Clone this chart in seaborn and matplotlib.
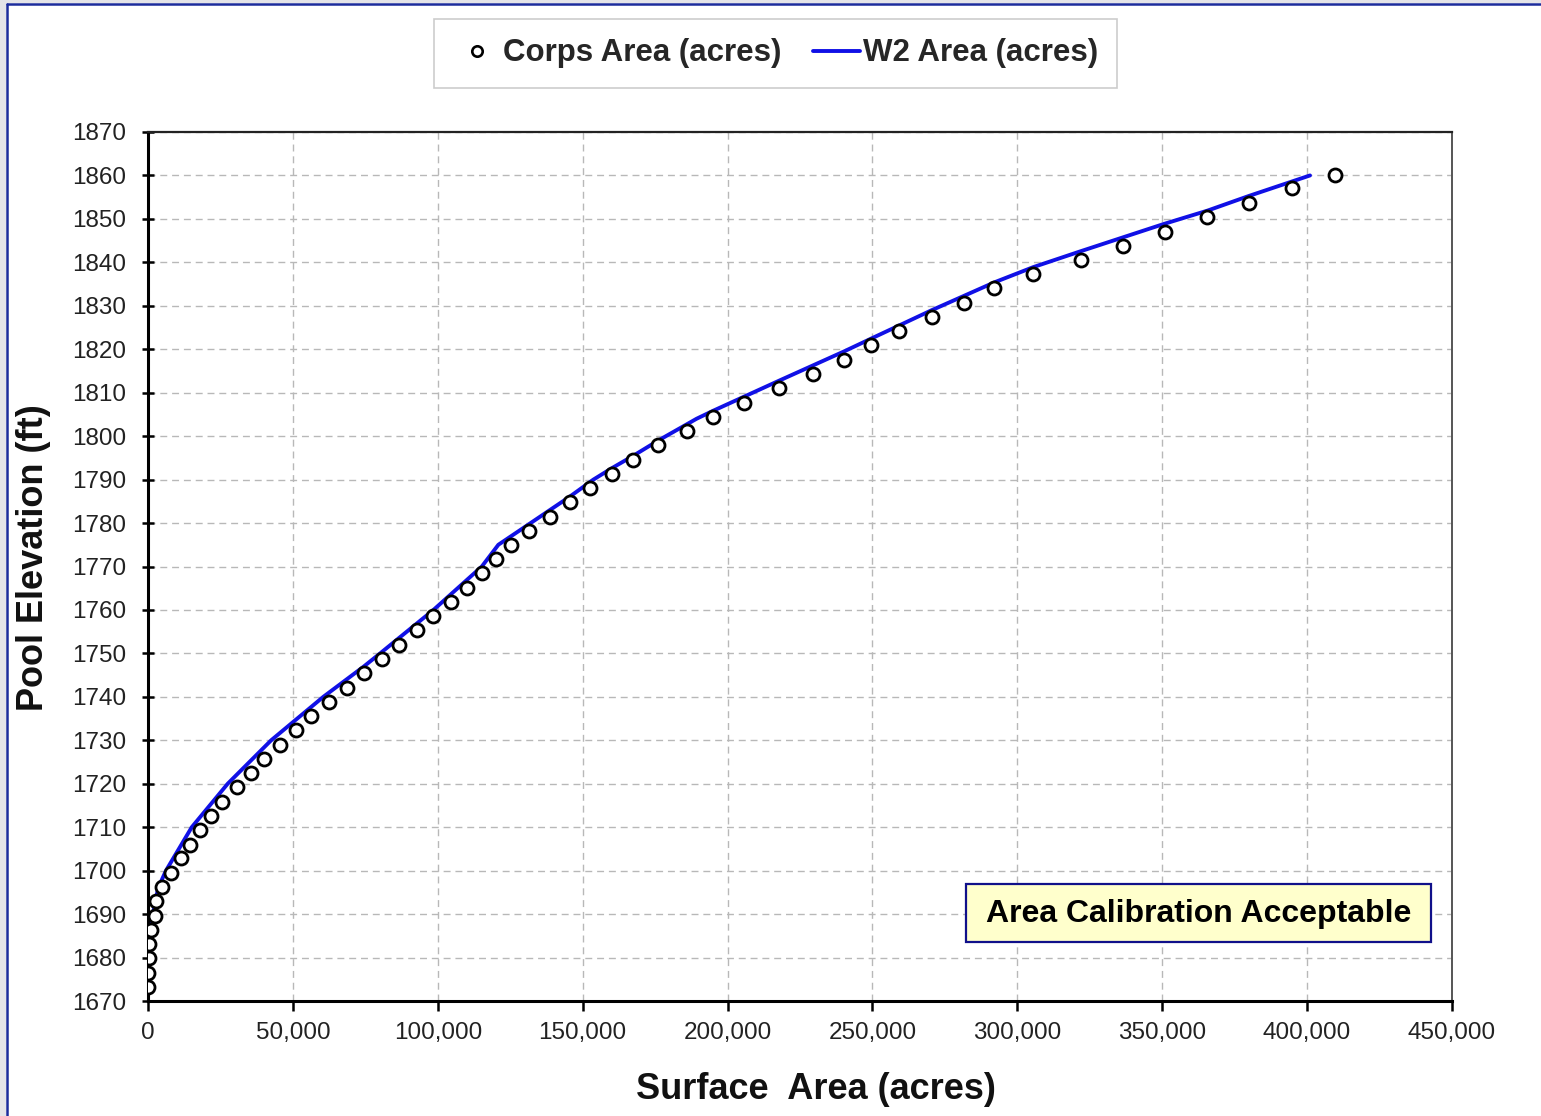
import matplotlib
matplotlib.use("Agg")
import matplotlib.pyplot as plt
from matplotlib.lines import Line2D
from matplotlib.patches import Rectangle
from matplotlib.ticker import FuncFormatter
import seaborn as sns
import pandas as pd

# ---------------- data ----------------
corps_elev = [1673.2, 1676.5, 1679.8, 1683.1, 1686.4, 1689.6, 1692.9, 1696.2, 1699.5, 1702.8,
              1706.0, 1709.3, 1712.6, 1715.9, 1719.2, 1722.4, 1725.7, 1729.0, 1732.3, 1735.6,
              1738.8, 1742.1, 1745.4, 1748.7, 1752.0, 1755.3, 1758.5, 1761.8, 1765.1, 1768.4,
              1771.7, 1774.9, 1778.2, 1781.5, 1784.8, 1788.1, 1791.3, 1794.6, 1797.9, 1801.2,
              1804.5, 1807.7, 1811.0, 1814.3, 1817.6, 1820.9, 1824.1, 1827.4, 1830.7, 1834.0,
              1837.3, 1840.6, 1843.8, 1847.1, 1850.4, 1853.7, 1857.0, 1860.2]
corps_area = [100, 100, 200, 500, 900, 2400, 2800, 4700, 7900, 11300,
              14500, 18100, 21900, 25700, 30800, 35400, 40000, 45700, 51000, 56400,
              62600, 68600, 74500, 80700, 86600, 92700, 98500, 104500, 110000, 115200,
              120000, 125200, 131600, 138600, 145600, 152400, 160000, 167500, 176100, 186000,
              194900, 205800, 217900, 229400, 240200, 249400, 259300, 270500, 281700, 292100,
              305500, 321900, 336300, 351100, 365600, 380000, 394700, 409600]

w2_area = [0, 400, 1700, 3500, 6200, 15100, 27500, 42500, 60500,
           74500, 80100, 98500, 115200, 120900, 131600, 145600, 153700, 160000, 167500,
           176100, 189300, 194900, 217900, 240200, 249400, 270500, 292100, 305500, 321600,
           350400, 365600, 380000, 401000]
w2_elev = [1673.2, 1683.0, 1690.0, 1696.0, 1700.0, 1710.0, 1720.0, 1730.0, 1740.0,
           1747.0, 1750.0, 1760.0, 1770.0, 1775.0, 1779.8, 1786.1, 1790.0, 1792.6, 1795.5,
           1799.0, 1804.0, 1805.8, 1812.8, 1819.5, 1822.4, 1829.0, 1835.4, 1838.9, 1842.5,
           1848.8, 1851.9, 1855.3, 1860.0]

y_ticks = list(range(1670, 1871, 10))
x_ticks = list(range(0, 450001, 50000))

legend_labels = ["Corps Area (acres)", "W2 Area (acres)"]
x_label = "Surface  Area (acres)"
y_label = "Pool Elevation (ft)"
note_text = "Area Calibration Acceptable"

corps = pd.DataFrame({"area": corps_area, "elev": corps_elev})
w2 = pd.DataFrame({"area": w2_area, "elev": w2_elev})

# ---------------- style ----------------
sns.set_theme(style="white")
plt.rcParams["font.family"] = ["Liberation Sans", "DejaVu Sans"]

BLUE = "#1010e6"
fig = plt.figure(figsize=(15.41, 11.16), dpi=100)
fig.patch.set_facecolor("white")
ax = fig.add_axes([148 / 1541, 1 - 1001 / 1116, (1452 - 148) / 1541, (1001 - 132) / 1116])

# figure frame (blue border at top/left, grey margin outside)
fig.patches.append(Rectangle((0, 0), 6 / 1541, 1, transform=fig.transFigure,
                             facecolor="#e4e4e8", edgecolor="none", zorder=0))
fig.patches.append(Rectangle((0, 1 - 3 / 1116), 1, 3 / 1116, transform=fig.transFigure,
                             facecolor="#e4e4e8", edgecolor="none", zorder=0))
fig.lines.append(Line2D([7 / 1541, 1], [1 - 4 / 1116, 1 - 4 / 1116], transform=fig.transFigure,
                        color="#1c2c9c", lw=1.8))
fig.lines.append(Line2D([7 / 1541, 7 / 1541], [0, 1 - 4 / 1116], transform=fig.transFigure,
                        color="#1c2c9c", lw=1.8))

# ---------------- data marks ----------------
sns.lineplot(data=w2, x="area", y="elev", ax=ax, color=BLUE, linewidth=2.8,
             sort=False, estimator=None, zorder=3)
sns.scatterplot(data=corps, x="area", y="elev", ax=ax, marker="o", s=88,
                facecolor="white", edgecolor="black", linewidth=2.0, zorder=4)

# ---------------- axes ----------------
ax.set_xlim(0, 450000)
ax.set_ylim(1670, 1870)
ax.set_xticks(x_ticks)
ax.set_yticks(y_ticks)
ax.xaxis.set_major_formatter(FuncFormatter(lambda v, p: f"{v:,.0f}"))
ax.grid(True, color="#b8b8b8", linestyle=(0, (5, 3.5)), linewidth=1.0)
ax.set_axisbelow(True)

for side in ["left", "bottom"]:
    ax.spines[side].set_color("black")
    ax.spines[side].set_linewidth(2.2)
ax.spines["top"].set_color("#222222")
ax.spines["top"].set_linewidth(1.6)
ax.spines["right"].set_color("#555555")
ax.spines["right"].set_linewidth(1.4)

ax.tick_params(axis="y", direction="inout", length=9, width=1.8, color="black",
               labelsize=17.5, labelcolor="#222222", pad=11, left=True)
ax.tick_params(axis="x", direction="out", length=7, width=1.8, color="black",
               labelsize=17.5, labelcolor="#222222", pad=8, bottom=True)

ax.set_xlabel(x_label, fontsize=26, fontweight="bold", color="#111111", labelpad=20)
ax.set_ylabel(y_label, fontsize=26, fontweight="bold", color="#111111", labelpad=15)
ax.xaxis.label.set_x((815.5 - 148) / 1304)
ax.yaxis.label.set_y((1001 - 558) / 869)

# ---------------- note box ----------------
ax.add_patch(Rectangle(((966 - 148) / 1304, (1001 - 942) / 869),
                       (1431 - 966) / 1304, (942 - 884) / 869,
                       transform=ax.transAxes, facecolor="#ffffcc", edgecolor="#10108a",
                       lw=1.6, zorder=6))
ax.text(((966 + 1431) / 2 - 148) / 1304, (1001 - 914) / 869, note_text,
        transform=ax.transAxes, ha="center", va="center", fontsize=23,
        fontweight="bold", color="black", zorder=7)

# ---------------- legend ----------------
handles = [
    Line2D([], [], linestyle="none", marker="o", markersize=7.5, markerfacecolor="white",
           markeredgecolor="black", markeredgewidth=1.9),
    Line2D([], [], color=BLUE, lw=2.8),
]
leg = fig.legend(handles, legend_labels, loc="center", ncol=2,
                 bbox_to_anchor=(775.5 / 1541, 1 - 53.5 / 1116),
                 prop={"size": 22.5, "weight": "bold"}, frameon=True, fancybox=False,
                 handlelength=1.5, handletextpad=0.1, columnspacing=1.0, borderpad=0.62)
leg.get_frame().set_edgecolor("#c0c0c0")
leg.get_frame().set_linewidth(1.2)
leg.get_frame().set_facecolor("white")

fig.savefig("out.png", dpi=100)
